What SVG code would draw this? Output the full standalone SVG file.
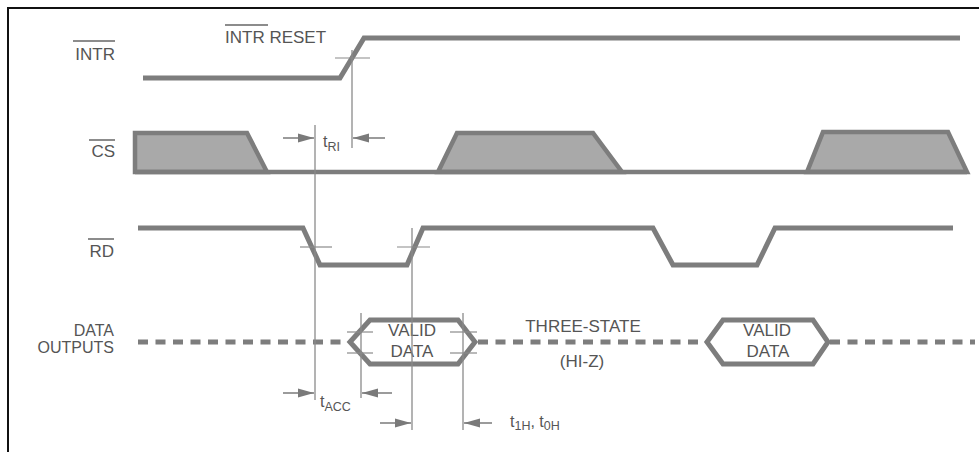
<svg xmlns="http://www.w3.org/2000/svg" width="979" height="452" viewBox="0 0 979 452">
<defs>
<marker id="ah" markerUnits="userSpaceOnUse" markerWidth="17" markerHeight="11" refX="16" refY="5.5" orient="auto">
<path d="M0,1 L16,5.5 L0,10 Z" fill="#7a7a7a"/>
</marker>
</defs>
<style>
.sig{fill:none;stroke:#7d7d7d;stroke-width:5;stroke-linejoin:miter}
.cs{fill:#a9a9a9;stroke:#7d7d7d;stroke-width:4.5;stroke-linejoin:miter}
.hex{fill:#fff;stroke:#7d7d7d;stroke-width:5}
.dash{fill:none;stroke:#7d7d7d;stroke-width:5;stroke-dasharray:10 7.5}
.thin{stroke:#8a8a8a;stroke-width:1.3;fill:none}
.tick{stroke:#8a8a8a;stroke-width:1.2;fill:none}
.arr{stroke:#7a7a7a;stroke-width:1.5;fill:none;marker-end:url(#ah)}
.ol{stroke:#666;stroke-width:1.5}
text{font-family:"Liberation Sans",Arial,sans-serif;fill:#555}
.lbl{font-size:17px}
.lbl2{font-size:16px}
.sm{font-size:16px}
.sub{font-size:12.5px}
</style>
<rect width="979" height="452" fill="#fff"/>
<path d="M8,452 L8,8 L979,8" fill="none" stroke="#111" stroke-width="2"/>

<g id="labels">
<text class="lbl" x="115" y="60" text-anchor="end">INTR</text>
<line class="ol" x1="73" y1="41" x2="115" y2="41"/>
<text class="lbl" x="115" y="157" text-anchor="end">CS</text>
<line class="ol" x1="89" y1="140" x2="115" y2="140"/>
<text class="lbl" x="114" y="257" text-anchor="end">RD</text>
<line class="ol" x1="88" y1="239" x2="114" y2="239"/>
<text class="lbl2" x="114" y="336" text-anchor="end">DATA</text>
<text class="lbl2" x="114" y="353" text-anchor="end">OUTPUTS</text>
</g>

<g id="intr">
<path class="sig" d="M143,78 L340,78 L364,38 L960,38"/>
<text class="lbl" x="225" y="43">INTR RESET</text>
<line class="ol" x1="225" y1="25" x2="268" y2="25"/>
</g>

<g id="cs">
<polygon class="cs" points="135,133 247,133 267,172 135,172"/>
<polygon class="cs" points="438,172 457,133 593,133 622,172"/>
<polygon class="cs" points="807,172 823,132 948,132 967,172"/>
<line x1="135" y1="172" x2="967" y2="172" stroke="#7d7d7d" stroke-width="4.5"/>
</g>

<g id="rd">
<path class="sig" d="M138,228 L303,228 L320,265 L407,265 L423,228 L653,228 L673,265 L757,265 L775,228 L953,228"/>
</g>

<g id="data">
<line class="dash" x1="138" y1="342" x2="346" y2="342"/>
<line class="dash" x1="478" y1="342" x2="704" y2="342"/>
<line class="dash" x1="830" y1="342" x2="975" y2="342"/>
<path class="hex" d="M350,342 L370,320 L458,320 L475,342 L458,364 L370,364 Z"/>
<path class="hex" d="M707,342 L723,320 L813,320 L828,342 L813,364 L723,364 Z"/>
<text class="lbl" x="412" y="336" text-anchor="middle">VALID</text>
<text class="lbl" x="412" y="357" text-anchor="middle">DATA</text>
<text class="lbl" x="767" y="336" text-anchor="middle">VALID</text>
<text class="lbl" x="768" y="357" text-anchor="middle">DATA</text>
<text class="lbl" x="583" y="332" text-anchor="middle">THREE-STATE</text>
<text class="lbl" x="582" y="367" text-anchor="middle">(HI-Z)</text>
</g>

<g id="connectors">
<line class="thin" x1="352" y1="50" x2="352" y2="148"/>
<line class="thin" x1="315" y1="125" x2="315" y2="400"/>
<line class="thin" x1="412" y1="228" x2="412" y2="430"/>
<line class="thin" x1="361" y1="313" x2="361" y2="398"/>
<line class="thin" x1="463" y1="313" x2="463" y2="430"/>
<line class="tick" x1="335" y1="58" x2="370" y2="58"/>
<line class="tick" x1="300" y1="247" x2="332" y2="247"/>
<line class="tick" x1="397" y1="247" x2="430" y2="247"/>
<line class="tick" x1="347" y1="332" x2="373" y2="332"/>
<line class="tick" x1="347" y1="353" x2="373" y2="353"/>
<line class="tick" x1="450" y1="332" x2="477" y2="332"/>
<line class="tick" x1="450" y1="353" x2="477" y2="353"/>
<line class="arr" x1="283" y1="138" x2="314" y2="138"/>
<line class="arr" x1="385" y1="138" x2="353" y2="138"/>
<line class="arr" x1="283" y1="393" x2="314" y2="393"/>
<line class="arr" x1="392" y1="393" x2="362" y2="393"/>
<line class="arr" x1="380" y1="423" x2="411" y2="423"/>
<line class="arr" x1="492" y1="423" x2="464" y2="423"/>
<text class="sm" x="323" y="147">t<tspan class="sub" dy="4">RI</tspan></text>
<text class="sm" x="320" y="407">t<tspan class="sub" dy="4">ACC</tspan></text>
<text class="sm" x="510" y="427">t<tspan class="sub" dy="3">1H</tspan><tspan dy="-3">, t</tspan><tspan class="sub" dy="3">0H</tspan></text>
</g>
</svg>
